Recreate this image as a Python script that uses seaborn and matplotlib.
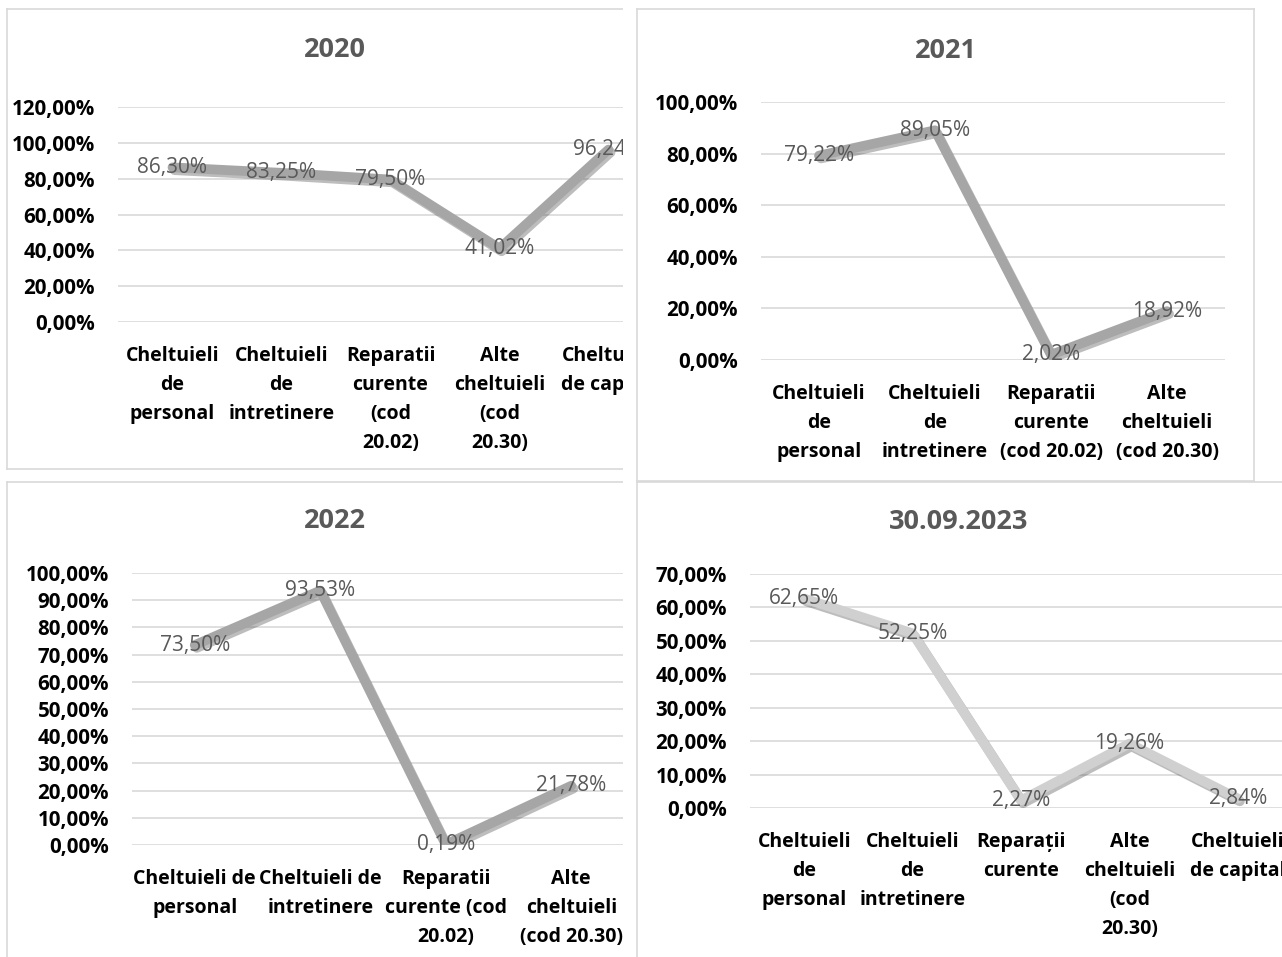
import numpy as np
import matplotlib
matplotlib.use("Agg")
import matplotlib.pyplot as plt
import matplotlib.patheffects as pe
from matplotlib.ticker import FuncFormatter
import seaborn as sns

# data
titles = ["2020", "2021", "2022", "30.09.2023"]

vals_2020 = [86.30, 83.25, 79.50, 41.02, 96.24]
vals_2021 = [79.22, 89.05, 2.02, 18.92]
vals_2022 = [73.50, 93.53, 0.19, 21.78]
vals_2023 = [62.65, 52.25, 2.27, 19.26, 2.84]

labels_2020 = ["Cheltuieli\nde\npersonal", "Cheltuieli\nde\nintretinere",
               "Reparatii\ncurente\n(cod\n20.02)", "Alte\ncheltuieli\n(cod\n20.30)",
               "Cheltuieli\nde capital"]
labels_2021 = ["Cheltuieli\nde\npersonal", "Cheltuieli\nde\nintretinere",
               "Reparatii\ncurente\n(cod 20.02)", "Alte\ncheltuieli\n(cod 20.30)"]
labels_2022 = ["Cheltuieli de\npersonal", "Cheltuieli de\nintretinere",
               "Reparatii\ncurente (cod\n20.02)", "Alte\ncheltuieli\n(cod 20.30)"]
labels_2023 = ["Cheltuieli\nde\npersonal", "Cheltuieli\nde\nintretinere",
               "Reparații\ncurente", "Alte\ncheltuieli\n(cod\n20.30)",
               "Cheltuieli\nde capital"]

W, H = 1282, 957
sns.set_theme(style="white")
plt.rcParams['font.family'] = ['Open Sans', 'DejaVu Sans']

fig = plt.figure(figsize=(W / 100, H / 100), dpi=100)
fig.patch.set_facecolor("white")


def px_axes(box, z):
    x0, y0, x1, y1 = box
    return fig.add_axes([x0 / W, 1 - y1 / H, (x1 - x0) / W, (y1 - y0) / H], zorder=z)


def pct(v, pos=None):
    return f"{v:.2f}".replace(".", ",") + "%"


# layout per panel: background box, plot area (pixels), y max, step, title position
panels = [
    dict(title=titles[0], vals=vals_2020, labels=labels_2020, bg=(7, 9, 623, 469),
         plot=(118, 107, 663, 322), ymax=120, step=20, tpos=(335, 50),
         color="#a6a6a6", z=0, hide=["right"]),
    dict(title=titles[1], vals=vals_2021, labels=labels_2021, bg=(637, 9, 1254, 481),
         plot=(761, 102, 1225, 360), ymax=100, step=20, tpos=(946, 51),
         color="#a6a6a6", z=3, hide=[]),
    dict(title=titles[2], vals=vals_2022, labels=labels_2022, bg=(7, 482, 623, 975),
         plot=(132, 573, 634, 845), ymax=100, step=10, tpos=(335, 521),
         color="#a6a6a6", z=0, hide=["right", "bottom"]),
    dict(title=titles[3], vals=vals_2023, labels=labels_2023, bg=(637, 482, 1300, 975),
         plot=(750, 574, 1292, 808), ymax=70, step=10, tpos=(959, 522),
         color="#d0d0d0", z=3, hide=["right", "bottom"]),
]

for p in panels:
    bg = px_axes(p["bg"], p["z"])
    bg.set_facecolor("white")
    bg.set_xticks([])
    bg.set_yticks([])
    for side, sp in bg.spines.items():
        sp.set_color("#d9d9d9")
        sp.set_linewidth(1.2)
        if side in p["hide"]:
            sp.set_visible(False)

    ax = px_axes(p["plot"], p["z"] + 1)
    ax.set_facecolor("none")
    n = len(p["vals"])
    x = np.arange(n)
    sns.lineplot(x=x, y=p["vals"], ax=ax, color=p["color"], linewidth=7,
                 path_effects=[pe.SimpleLineShadow(offset=(1.5, -2), shadow_color="#5a5a5a", alpha=0.4),
                               pe.Normal()])
    for xi, v in zip(x, p["vals"]):
        ax.text(xi, v, pct(v), ha="center", va="center", color="#595959",
                fontsize=15, zorder=5)

    ax.set_xlim(-0.5, n - 0.5)
    ax.set_ylim(0, p["ymax"])
    ax.set_yticks(np.arange(0, p["ymax"] + 1, p["step"]))
    ax.yaxis.set_major_formatter(FuncFormatter(pct))
    ax.set_xticks(x)
    ax.set_xticklabels(p["labels"], fontweight="bold", color="black", fontsize=14,
                       linespacing=1.6)
    for lab in ax.get_yticklabels():
        lab.set_fontweight("bold")
        lab.set_color("black")
        lab.set_fontsize(14.8)
    ax.tick_params(axis="x", length=0, pad=17)
    ax.tick_params(axis="y", length=0, pad=16.5)
    ax.grid(axis="y", color="#d9d9d9", linewidth=1.2)
    ax.grid(axis="x", visible=False)
    ax.set_axisbelow(True)
    for sp in ax.spines.values():
        sp.set_visible(False)

    fig.text(p["tpos"][0] / W, 1 - p["tpos"][1] / H, p["title"], ha="center", va="center",
             fontsize=19.5, fontweight="bold", color="#595959", zorder=10)

# white gap between left and right columns hides the overflow of the left charts
strip = px_axes((623, 0, 636.5, 957), 2)
strip.set_facecolor("white")
strip.set_xticks([])
strip.set_yticks([])
for sp in strip.spines.values():
    sp.set_visible(False)

fig.savefig("out.png", dpi=100, facecolor="white")
